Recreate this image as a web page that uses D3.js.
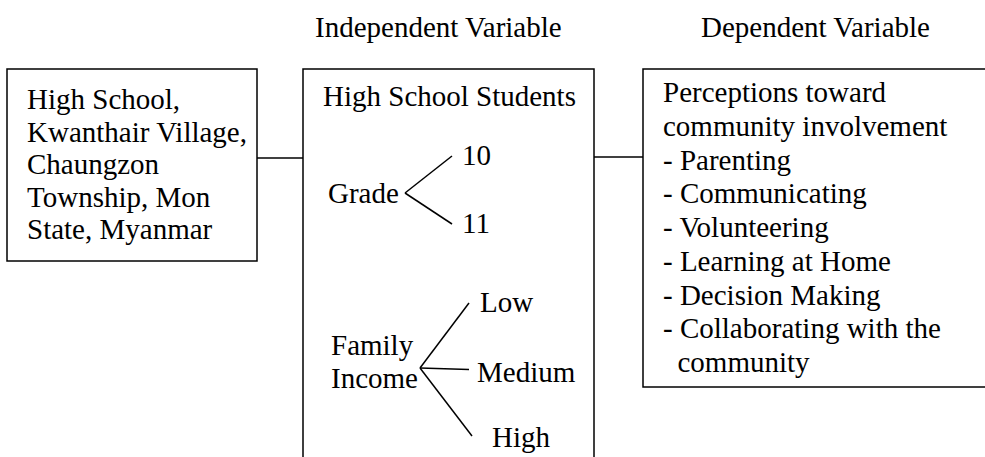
<!DOCTYPE html>
<html>
<head>
<meta charset="utf-8">
<script src="https://cdn.jsdelivr.net/npm/d3@7"></script>
<style>
  html, body { margin: 0; padding: 0; background: #fff; }
  svg { display: block; }
</style>
</head>
<body>
<svg id="chart" width="985" height="457"></svg>
<script>
// ---- content ----
const headers = ["Independent Variable", "Dependent Variable"];
const contextLines = ["High School,", "Kwanthair Village,", "Chaungzon", "Township, Mon", "State, Myanmar"];
const groupTitle = "High School Students";
const gradeLabel = ["Grade"];
const grades = ["10", "11"];
const incomeLabel = ["Family", "Income"];
const incomes = ["Low", "Medium", "High"];
const outcomeLines = ["Perceptions toward", "community involvement", "- Parenting", "- Communicating",
  "- Volunteering", "- Learning at Home", "- Decision Making", "- Collaborating with the", "  community"];

const FONT = "'Liberation Serif', 'Times New Roman', Times, 'DejaVu Serif', serif";
const svg = d3.select("#chart")
  .attr("font-family", FONT)
  .attr("font-size", 29)
  .style("font-family", FONT);
const stroke = "#000", sw = 1.5;

// layout scales
const leftLineY = d3.scalePoint().domain(d3.range(contextLines.length)).range([109, 239]);
const rightLineY = d3.scalePoint().domain(d3.range(outcomeLines.length)).range([102, 372]);
const gradeY = d3.scalePoint().domain(grades).range([156, 224]);
const incomeY = d3.scalePoint().domain(incomes).range([303, 436]);
const incomeEndX = d3.scaleOrdinal().domain(incomes).range([469, 469, 472]);
const incomeTextX = d3.scaleOrdinal().domain(incomes).range([480, 477, 492]);

function txt(sel) {
  return sel.attr("font-family", FONT).attr("font-size", 29).attr("fill", "#000");
}

// headers
txt(svg.selectAll("text.hdr").data(headers).join("text")
  .attr("class", "hdr")
  .attr("x", (d, i) => [315, 701][i])
  .attr("y", 37)
  .text(d => d));

// boxes
const boxes = [
  {x: 7, y: 69, w: 250, h: 192},
  {x: 303, y: 69, w: 291, h: 420},
  {x: 643, y: 69, w: 360, h: 318}
];
svg.selectAll("rect.box").data(boxes).join("rect")
  .attr("class", "box")
  .attr("x", d => d.x).attr("y", d => d.y)
  .attr("width", d => d.w).attr("height", d => d.h)
  .attr("fill", "none").attr("stroke", stroke).attr("stroke-width", sw);

// connectors
const connectors = [
  {x1: 257, x2: 303, y: 158},
  {x1: 594, x2: 643, y: 157}
];
svg.selectAll("line.conn").data(connectors).join("line")
  .attr("class", "conn")
  .attr("x1", d => d.x1).attr("x2", d => d.x2)
  .attr("y1", d => d.y).attr("y2", d => d.y)
  .attr("stroke", stroke).attr("stroke-width", sw);

// left box text
txt(svg.selectAll("text.ctx").data(contextLines).join("text")
  .attr("class", "ctx")
  .attr("x", 27)
  .attr("y", (d, i) => leftLineY(i))
  .text(d => d));

// middle box
txt(svg.append("text").attr("x", 323).attr("y", 106).text(groupTitle));

txt(svg.append("text").attr("x", 328).attr("y", 203).text(gradeLabel[0]));
const gradeVertex = [405, 193];
svg.selectAll("line.gr").data(grades).join("line")
  .attr("class", "gr")
  .attr("x1", gradeVertex[0]).attr("y1", gradeVertex[1])
  .attr("x2", 452).attr("y2", d => gradeY(d))
  .attr("stroke", stroke).attr("stroke-width", sw);
txt(svg.selectAll("text.grt").data(grades).join("text")
  .attr("class", "grt")
  .attr("x", 462).attr("y", d => gradeY(d) + 9)
  .text(d => d));

txt(svg.selectAll("text.inl").data(incomeLabel).join("text")
  .attr("class", "inl")
  .attr("x", 331).attr("y", (d, i) => 355 + i * 33)
  .text(d => d));
const incomeVertex = [420, 368];
svg.selectAll("line.inc").data(incomes).join("line")
  .attr("class", "inc")
  .attr("x1", incomeVertex[0]).attr("y1", incomeVertex[1])
  .attr("x2", d => incomeEndX(d)).attr("y2", d => incomeY(d))
  .attr("stroke", stroke).attr("stroke-width", sw);
txt(svg.selectAll("text.inct").data(incomes).join("text")
  .attr("class", "inct")
  .attr("x", d => incomeTextX(d)).attr("y", (d, i) => incomeY(d) + [9, 12, 11][i])
  .text(d => d));

// right box text
txt(svg.selectAll("text.out").data(outcomeLines).join("text")
  .attr("class", "out")
  .attr("x", 663)
  .attr("y", (d, i) => rightLineY(i))
  .attr("xml:space", "preserve")
  .style("white-space", "pre")
  .text(d => d));
</script>
</body>
</html>
